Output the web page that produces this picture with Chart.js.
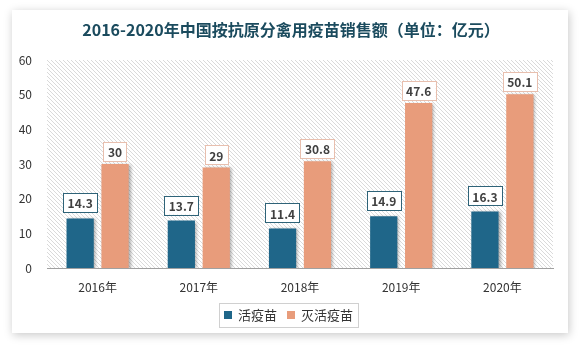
<!DOCTYPE html>
<html>
<head>
<meta charset="utf-8">
<script src="https://cdn.jsdelivr.net/npm/chart.js@4"></script>
<style>
  html, body { margin: 0; padding: 0; background: #ffffff; }
  #wrap { width: 582px; height: 348px; position: relative; }
</style>
</head>
<body>
<div id="wrap"><canvas id="chart" width="582" height="348"></canvas></div>
<script>
// data
const chartTitle = '2016-2020年中国按抗原分禽用疫苗销售额（单位：亿元）';
const years = ['2016年', '2017年', '2018年', '2019年', '2020年'];
const liveVaccine = [14.3, 13.7, 11.4, 14.9, 16.3];
const inactivatedVaccine = [30, 29, 30.8, 47.6, 50.1];
const seriesNames = ['活疫苗', '灭活疫苗'];
const yTicks = [0, 10, 20, 30, 40, 50, 60];

const BLUE = '#1f6689';
const ORANGE = '#e89c7b';
const FONT = '"Noto Sans CJK SC", "Noto Sans", sans-serif';

// white card with soft shadow + hatched plot background
const backdrop = {
  id: 'backdrop',
  beforeDraw(chart) {
    const ctx = chart.ctx;
    const a = chart.chartArea;
    ctx.save();
    ctx.shadowColor = 'rgba(0,0,0,0.22)';
    ctx.shadowBlur = 9;
    ctx.shadowOffsetX = 1;
    ctx.shadowOffsetY = 2;
    ctx.fillStyle = '#ffffff';
    ctx.fillRect(12, 10, 556, 323);
    ctx.restore();

    // diagonal hatch
    ctx.save();
    ctx.beginPath();
    ctx.rect(a.left, a.top, a.right - a.left, a.bottom - a.top);
    ctx.clip();
    ctx.strokeStyle = '#dadada';
    ctx.lineWidth = 1;
    const h = a.bottom - a.top;
    for (let x = a.left - h; x < a.right + 4; x += 4) {
      ctx.beginPath();
      ctx.moveTo(x, a.top);
      ctx.lineTo(x + h, a.bottom);
      ctx.stroke();
    }
    ctx.restore();

    // title
    ctx.save();
    ctx.fillStyle = '#1b4b5e';
    ctx.font = 'bold 16px ' + FONT;
    ctx.textAlign = 'center';
    ctx.textBaseline = 'middle';
    ctx.fillText(chartTitle, 291, 30);
    ctx.restore();
  },
  beforeDatasetsDraw(chart) {
    const ctx = chart.ctx;
    ctx.save();
    ctx.shadowColor = 'rgba(0,0,0,0.3)';
    ctx.shadowBlur = 3;
    ctx.shadowOffsetX = 2;
    ctx.shadowOffsetY = 1;
  },
  afterDatasetsDraw(chart) {
    chart.ctx.restore();
  }
};

// boxed value labels above bars, and the framed legend
const labelsAndLegend = {
  id: 'labelsAndLegend',
  afterDraw(chart) {
    const ctx = chart.ctx;
    ctx.save();
    ctx.font = 'bold 12px ' + FONT;
    ctx.textAlign = 'center';
    ctx.textBaseline = 'middle';
    chart.data.datasets.forEach((ds, di) => {
      const meta = chart.getDatasetMeta(di);
      meta.data.forEach((bar, i) => {
        const txt = String(ds.data[i]);
        const w = ctx.measureText(txt).width + 9;
        const hgt = 19;
        const gap = di === 0 ? 6 : 3;
        const x = bar.x - w / 2;
        const y = bar.y - gap - hgt;
        ctx.fillStyle = '#ffffff';
        ctx.fillRect(x, y, w, hgt);
        ctx.strokeStyle = di === 0 ? '#2e6378' : '#e8bfae';
        ctx.lineWidth = 1;
        ctx.strokeRect(Math.round(x) + 0.5, Math.round(y) + 0.5, Math.round(w), hgt);
        ctx.fillStyle = '#404040';
        ctx.fillText(txt, bar.x, y + hgt / 2 + 1);
      });
    });

    // legend
    ctx.font = '13px ' + FONT;
    ctx.textAlign = 'left';
    const sq = 8, gapSq = 6, gapItem = 10, padX = 5;
    const widths = chart.data.datasets.map(ds => sq + gapSq + ctx.measureText(ds.label).width);
    const total = widths.reduce((s, v) => s + v, 0) + gapItem * (widths.length - 1) + padX * 2;
    const cx = 288.5, cy = 315;
    let lx = cx - total / 2;
    ctx.strokeStyle = '#d0d0d0';
    ctx.strokeRect(Math.round(lx) + 0.5, cy - 12 + 0.5, Math.round(total), 24);
    lx += padX;
    chart.data.datasets.forEach((ds, di) => {
      ctx.fillStyle = ds.backgroundColor;
      ctx.fillRect(lx, cy - sq / 2, sq, sq);
      ctx.fillStyle = '#333333';
      ctx.fillText(ds.label, lx + sq + gapSq, cy);
      lx += widths[di] + gapItem;
    });
    ctx.restore();
  }
};

new Chart(document.getElementById('chart'), {
  type: 'bar',
  data: {
    labels: years,
    datasets: [
      { label: seriesNames[0], data: liveVaccine, backgroundColor: BLUE },
      { label: seriesNames[1], data: inactivatedVaccine, backgroundColor: ORANGE }
    ]
  },
  plugins: [backdrop, labelsAndLegend],
  options: {
    responsive: false,
    animation: false,
    devicePixelRatio: 1,
    layout: { padding: { left: 0, top: 60, right: 29, bottom: 0 } },
    datasets: {
      bar: { categoryPercentage: 0.69, barPercentage: 0.78 }
    },
    plugins: {
      legend: { display: false },
      title: { display: false },
      tooltip: { enabled: false }
    },
    scales: {
      x: {
        grid: { display: false },
        border: { display: true, color: '#a0a0a0', width: 1 },
        ticks: { color: '#333333', font: { family: FONT, size: 12 }, padding: 4 },
        afterFit(scale) { scale.height = 80; }
      },
      y: {
        min: 0,
        max: 60,
        afterBuildTicks(scale) { scale.ticks = yTicks.map(v => ({ value: v })); },
        grid: { display: false },
        border: { display: false },
        ticks: { color: '#333333', font: { family: FONT, size: 12 }, padding: 7 },
        afterFit(scale) { scale.width = 47; }
      }
    }
  }
});
</script>
</body>
</html>
